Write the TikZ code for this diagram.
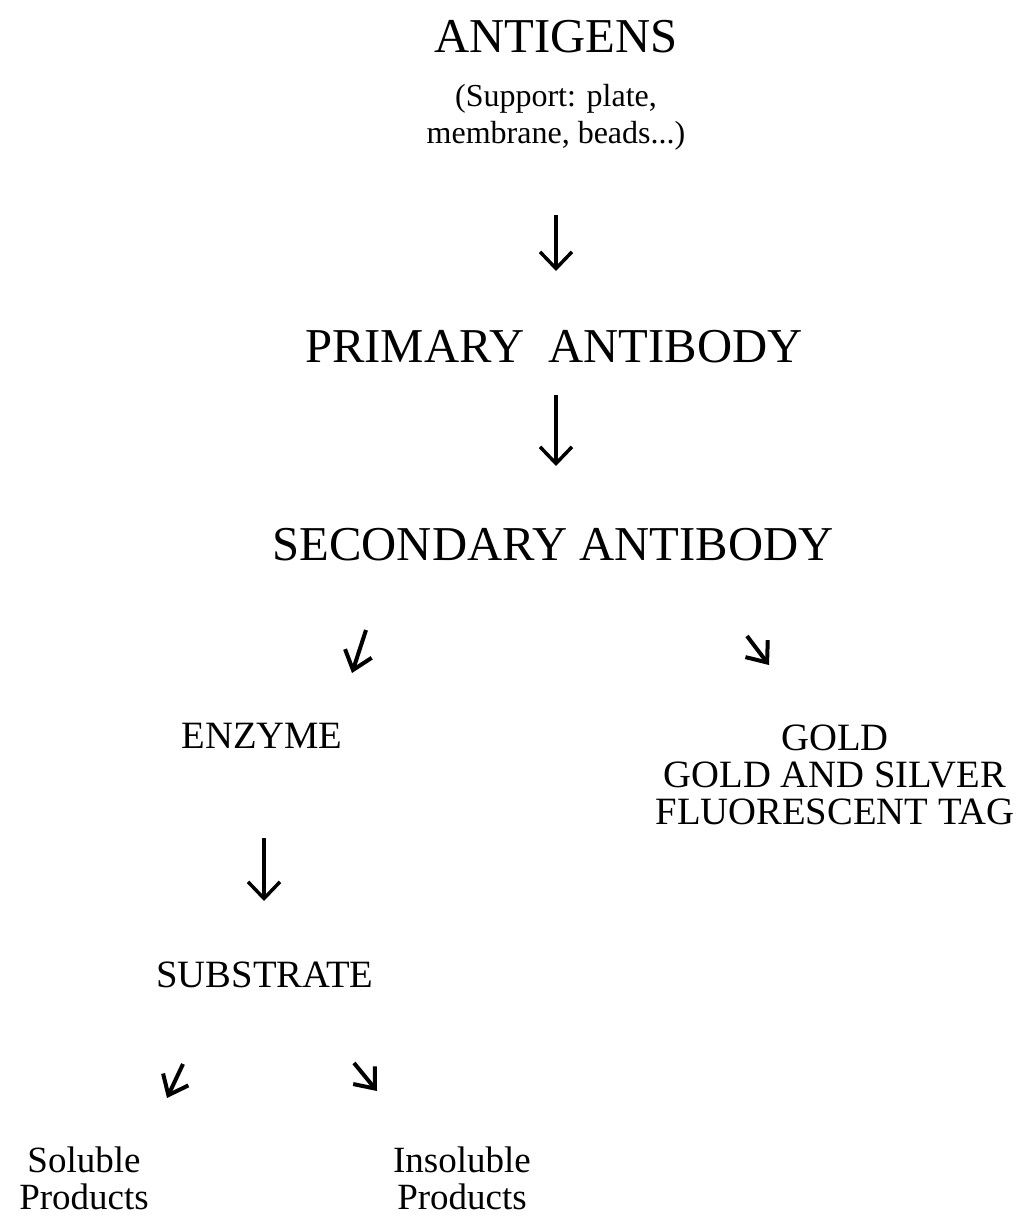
\documentclass[tikz,border=0pt]{standalone}
\usepackage{fontspec}
\setmainfont{Liberation Serif}
\usetikzlibrary{positioning,arrows.meta}

\tikzset{
  bigtext/.style={font=\fontsize{36.5}{40}\selectfont, inner sep=0pt},
  midtext/.style={font=\fontsize{29}{27.75}\selectfont, align=center, inner sep=0pt},
  lowtext/.style={font=\fontsize{27.75}{27.75}\selectfont, align=center, inner sep=0pt},
  smalltext/.style={font=\fontsize{24}{27.75}\selectfont, align=center, inner sep=0pt},
  arr/.style={-{Straight Barb[length=12.5pt,width=24pt]}, line width=2.6pt},
  handarr/.style={-{Straight Barb[length=13pt,width=21pt]}, line width=3pt}
}

\begin{document}
\begin{tikzpicture}[x=0.75pt,y=0.75pt]
  \useasboundingbox (0,0) rectangle (1030,-1224);

  % stages
  \node[bigtext] (antigens) at (556,-37) {ANTIGENS};
  \node[smalltext] (support) at (556,-117) {(Support: plate,\\membrane, beads...)};
  \node[bigtext] (primary) at (554,-347) {PRIMARY\ \ ANTIBODY};
  \node[bigtext] (secondary) at (553,-545) {SECONDARY ANTIBODY};
  \node[midtext] (enzyme) at (262,-736) {ENZYME};
  \node[midtext] (labels) at (835,-775) {GOLD\\GOLD AND SILVER\\FLUORESCENT TAG};
  \node[midtext] (substrate) at (265,-975) {SUBSTRATE};
  \node[lowtext] (soluble) at (84,-1178) {Soluble\\Products};
  \node[lowtext] (insoluble) at (462,-1178) {Insoluble\\Products};

  % arrow ends
  \coordinate (a1from) at (556,-215);
  \coordinate (a1to) at (556,-271);
  \coordinate (a2from) at (556,-395);
  \coordinate (a2to) at (556,-466);
  \coordinate (a3from) at (366,-630);
  \coordinate (a3to) at (352,-673);
  \coordinate (a4from) at (747,-636);
  \coordinate (a4to) at (769,-665);
  \coordinate (a5from) at (264,-838);
  \coordinate (a5to) at (264,-901);
  \coordinate (a6from) at (183,-1064);
  \coordinate (a6to) at (167,-1098);
  \coordinate (a7from) at (354,-1063);
  \coordinate (a7to) at (377,-1091);

  \draw[arr] (a1from) -- (a1to);
  \draw[arr] (a2from) -- (a2to);
  \draw[handarr] (a3from) -- (a3to);
  \draw[handarr] (a4from) -- (a4to);
  \draw[arr] (a5from) -- (a5to);
  \draw[handarr] (a6from) -- (a6to);
  \draw[handarr] (a7from) -- (a7to);
\end{tikzpicture}
\end{document}
